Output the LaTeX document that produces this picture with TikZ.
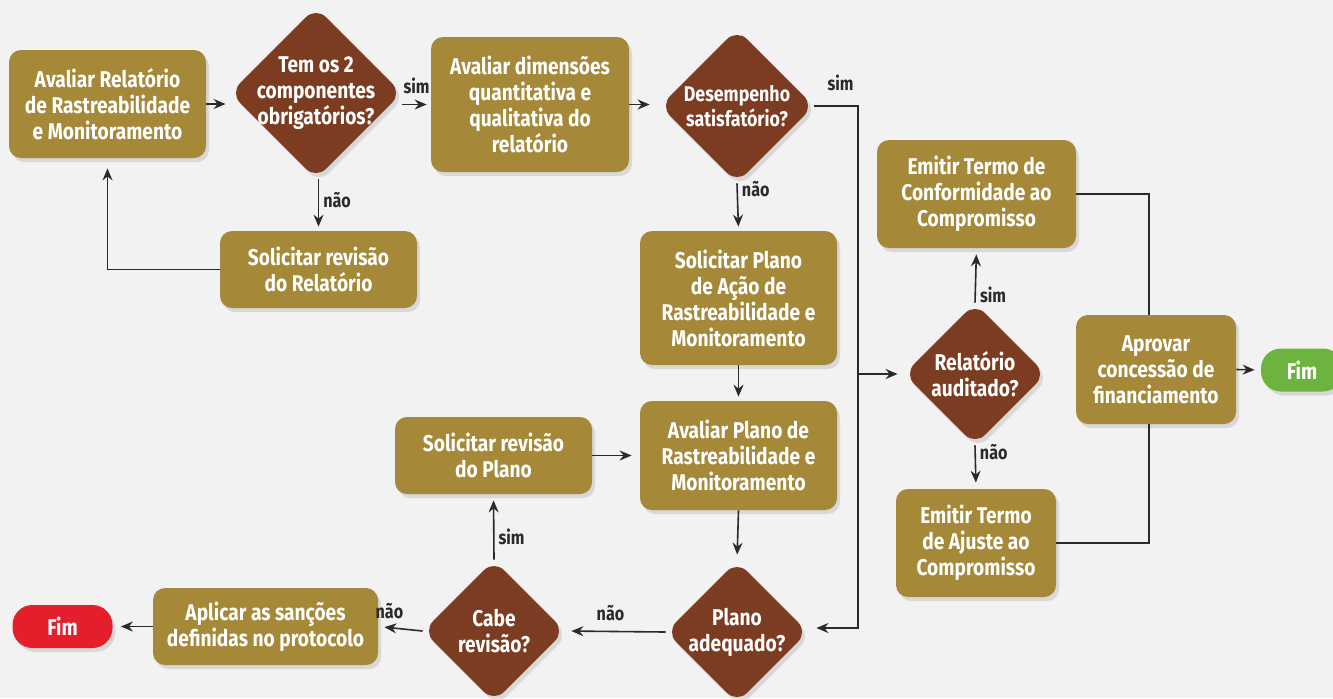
\documentclass[tikz,border=0pt]{standalone}
\usepackage{fontspec}
\setmainfont{Fira Sans}[FakeStretch=0.84]
\usetikzlibrary{shapes.geometric,arrows.meta,shadows}

\definecolor{bgcol}{HTML}{F2F2F2}
\definecolor{boxcol}{HTML}{A58838}
\definecolor{diacol}{HTML}{7C3C21}
\definecolor{linecol}{HTML}{2A2A2A}
\definecolor{fimred}{HTML}{E41E2B}
\definecolor{fimgreen}{HTML}{6DB33F}

\begin{document}
\begin{tikzpicture}[x=0.5pt,y=-0.5pt,
		every node/.style={font=\bfseries\fontsize{11.4}{13}\selectfont, text=white, align=center},
		softshadow/.style={drop shadow={shadow xshift=1.5pt, shadow yshift=-2pt, opacity=0.22}},
		stepbox/.style 2 args={rectangle, rounded corners=6pt, fill=boxcol, softshadow, inner sep=0pt, minimum width=#1pt, minimum height=#2pt},
		decision/.style={diamond, aspect=1, rounded corners=7pt, fill=diacol, softshadow, inner sep=-6pt, minimum width=#1pt, minimum height=#1pt},
		endbox/.style={rectangle, rounded corners=10pt, fill=#1, softshadow, minimum width=50pt, minimum height=21.5pt, inner sep=0pt},
		flow/.style={draw=linecol, line width=0.8pt, shorten >=2pt, -{Stealth[length=6pt,width=5pt,inset=2pt]}},
		link/.style={draw=linecol, line width=0.8pt},
		answer/.style={text=linecol, font=\bfseries\fontsize{9.6}{10}\selectfont, inner sep=2pt}
	]
	\useasboundingbox[fill=bgcol] (0,0) rectangle (1333,698);

	\node[stepbox={98.5}{54}] (relatorio) at (107.5,104) {Avaliar Relatório\\de Rastreabilidade\\e Monitoramento};
	\node[decision=86] (componentes) at (316,93) {Tem os 2\\componentes\\obrigatórios?};
	\node[stepbox={99}{67.5}] (dimensoes) at (530,104.5) {Avaliar dimensões\\quantitativa e\\qualitativa do\\relatório};
	\node[decision=77, font=\bfseries\fontsize{10.6}{12.5}\selectfont] (desempenho) at (737,106) {Desempenho\\satisfatório?};
	\node[stepbox={98.5}{38.5}] (revrelatorio) at (318.5,269.5) {Solicitar revisão\\do Relatório};
	\node[stepbox={98.5}{67}] (solplano) at (738.5,298) {Solicitar Plano\\de Ação de\\Rastreabilidade e\\Monitoramento};
	\node[stepbox={98.5}{54.5}] (avplano) at (738.5,455.5) {Avaliar Plano de\\Rastreabilidade e\\Monitoramento};
	\node[stepbox={98.5}{38.5}] (revplano) at (493.5,455.5) {Solicitar revisão\\do Plano};
	\node[decision=71] (adequado) at (737,632) {Plano\\adequado?};
	\node[decision=71] (cabe) at (494,631) {Cabe\\revisão?};
	\node[stepbox={112.5}{38.5}] (sancoes) at (265.5,626.5) {Aplicar as sanções\\definidas no protocolo};
	\node[endbox=fimred] (fimnao) at (62.5,626.5) {Fim};
	\node[stepbox={99.5}{54}] (conformidade) at (976.5,194) {Emitir Termo de\\Conformidade ao\\Compromisso};
	\node[decision=71] (auditado) at (975,374) {Relatório\\auditado?};
	\node[stepbox={80}{54}] (ajuste) at (976,543) {Emitir Termo\\de Ajuste ao\\Compromisso};
	\node[stepbox={80}{54.5}] (aprovar) at (1156,369.5) {Aprovar\\concessão de\\financiamento};
	\node[endbox=fimgreen, minimum width=41pt] (fimsim) at (1302,370) {Fim};

	\coordinate (barra) at (858,628);
	\coordinate (juncao) at (1149,370);

	\draw[flow] (relatorio.east) -- (relatorio.east -| componentes.west);
	\draw[flow] (componentes.east |- dimensoes.west) -- (dimensoes.west) node[answer, above=3pt, pos=0.5] {sim};
	\draw[flow] (componentes.south -| revrelatorio.north) -- (revrelatorio.north) node[answer, right, pos=0.4] {não};
	\draw[flow, shorten >=5pt] (revrelatorio.west) -| (relatorio.south);
	\draw[flow, shorten >=5pt] (dimensoes.east) -- (dimensoes.east -| desempenho.west);
	\draw[flow] (desempenho.south) -- (solplano.north) node[answer, right, pos=0.12] {não};
	\draw[flow, shorten >=4pt] (desempenho.east) -| (barra) node[answer, above=5pt, pos=0.3] {sim} -- (barra -| adequado.east);
	\draw[flow, shorten >=3pt] (barra |- auditado.west) -- (auditado.west);
	\draw[flow] (solplano.south) -- (avplano.north);
	\draw[flow, shorten >=3pt] (avplano.south) -- (adequado.north);
	\draw[flow, shorten >=4pt] (revplano.east) -- (avplano.west);
	\draw[flow, shorten >=3pt] (adequado.west) -- (cabe.east) node[answer, above=3pt, pos=0.55] {não};
	\draw[flow, shorten >=3pt] (cabe.north) -- (revplano.south) node[answer, right, pos=0.35] {sim};
	\draw[flow, shorten >=3pt] (cabe.west) -- (sancoes.east) node[answer, above=2pt, pos=0.75] {não};
	\draw[flow, shorten >=4pt] (sancoes.west) -- (fimnao.east);
	\draw[flow, shorten >=3pt] (auditado.north) -- (conformidade.south) node[answer, right, pos=0.15] {sim};
	\draw[flow, shorten >=3pt] (auditado.south) -- (ajuste.north) node[answer, right, pos=0.15] {não};
	\draw[link] (conformidade.east) -| (juncao |- aprovar.north);
	\draw[link] (ajuste.east) -| (juncao |- aprovar.south);
	\draw[flow, shorten >=3pt] (aprovar.east) -- (fimsim.west);
\end{tikzpicture}
\end{document}
